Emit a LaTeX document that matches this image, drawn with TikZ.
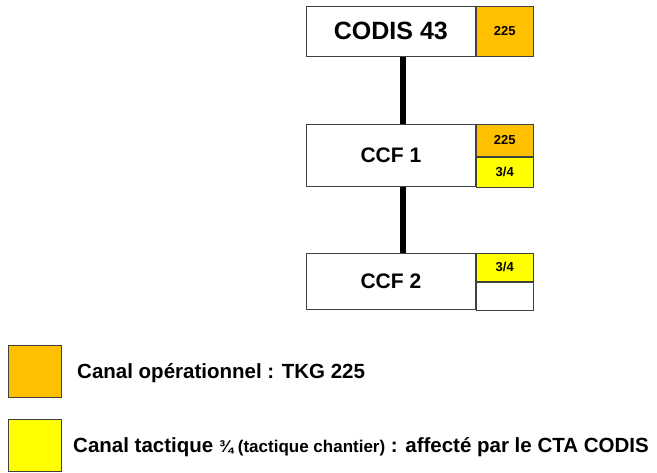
\documentclass[tikz,border=0pt]{standalone}
\usepackage{fontspec}
\setmainfont{Liberation Sans}
\usepackage{tikz}
\definecolor{canalop}{HTML}{FFC000}
\definecolor{canaltac}{HTML}{FFFF00}

\begin{document}
\begin{tikzpicture}[x=1pt,y=-1pt,
  boite/.style={draw=black!75, line width=0.8pt, inner sep=0pt, anchor=north west, minimum width=169pt},
  case/.style={draw=black!75, line width=0.8pt, inner sep=0pt, anchor=north west, minimum width=57pt,
    font=\bfseries\fontsize{13}{13}\selectfont},
  liaison/.style={line width=6.5pt},
  legende/.style={draw=black!75, line width=0.8pt, inner sep=0pt, anchor=north west,
    minimum width=53pt, minimum height=52pt}]
  \useasboundingbox (0,0) rectangle (657,472);

  % CODIS 43
  \node[boite, minimum height=50pt, font=\bfseries\fontsize{25}{25}\selectfont] (codis) at (306,6) {CODIS 43};
  \node[case, fill=canalop, minimum height=50pt] (codis225) at (codis.north east) {225};

  % CCF 1
  \node[boite, minimum height=62pt, font=\bfseries\fontsize{21}{21}\selectfont] (ccf1) at (306,124) {CCF 1};
  \node[case, fill=canalop, minimum height=32pt] (ccf1op) at (ccf1.north east) {225};
  \node[case, fill=canaltac, minimum height=30pt] (ccf1tac) at (ccf1op.south west) {3/4};

  % CCF 2
  \node[boite, minimum height=56pt, font=\bfseries\fontsize{21}{21}\selectfont] (ccf2) at (306,253) {CCF 2};
  \node[case, fill=canaltac, minimum height=28pt] (ccf2tac) at (ccf2.north east) {3/4};
  \node[case, minimum height=28pt] (ccf2vide) at (ccf2tac.south west) {};

  % liaisons
  \coordinate (axe) at (403,0);
  \draw[liaison] (codis.south -| axe) -- (ccf1.north -| axe);
  \draw[liaison] (ccf1.south -| axe) -- (ccf2.north -| axe);

  % legende
  \node[legende, fill=canalop] (legop) at (8,345) {};
  \node[anchor=base west, inner sep=0pt, font=\bfseries\fontsize{20.5}{24}\selectfont] (txtop) at (77,378)
    {Canal opérationnel : TKG 225};
  \node[legende, fill=canaltac] (legtac) at (8,419) {};
  \node[anchor=base west, inner sep=0pt, font=\bfseries\fontsize{20.5}{24}\selectfont] (txttac) at (73,452)
    {Canal tactique {\fontsize{17}{20}\selectfont ¾ (tactique chantier)} : affecté par le CTA CODIS};
\end{tikzpicture}
\end{document}
